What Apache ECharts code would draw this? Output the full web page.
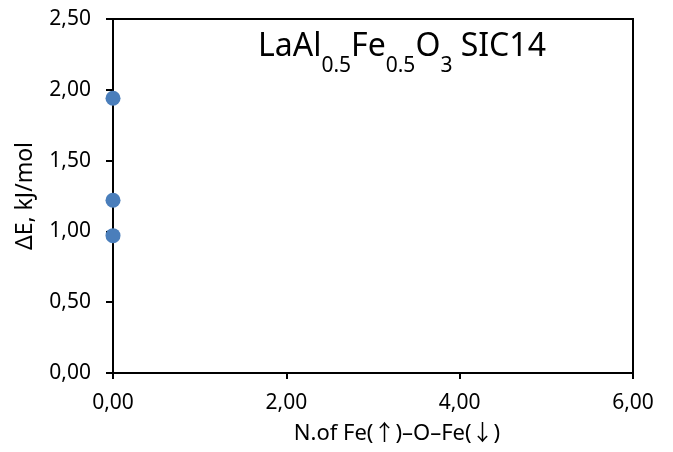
<!DOCTYPE html>
<html>
<head>
<meta charset="utf-8">
<script src="https://cdn.jsdelivr.net/npm/echarts@6/dist/echarts.min.js"></script>
<style>
  html, body { margin: 0; padding: 0; background: #fff; }
  #main { width: 673px; height: 452px; }
</style>
</head>
<body>
<div id="main"></div>
<script>
// data
const xValues = [0, 0, 0]
const yValues = [1.94, 1.22, 0.97]
const xTicks = { min: 0, max: 6, interval: 2 }
const yTicks = { min: 0, max: 2.5, interval: 0.5 }

const fmt = v => v.toFixed(2).replace('.', ',')
const font = '"Noto Sans", "DejaVu Sans", sans-serif'
const nameFont = '"Noto Sans", "Noto Sans CJK SC", sans-serif'

const chart = echarts.init(document.getElementById('main'))
chart.setOption({
  animation: false,
  title: {
    left: 258,
    top: 31,
    padding: 0,
    text: '{m|LaAl}{s|0.5}{m|Fe}{s|0.5}{m|O}{s|3}{m| SIC14}',
    textStyle: {
      rich: {
        m: { fontSize: 32, fontWeight: 'normal', lineHeight: 40, verticalAlign: 'top', color: '#000', fontFamily: font },
        s: { fontSize: 21, fontWeight: 'normal', lineHeight: 21, verticalAlign: 'top', padding: [25, 0, 0, 0], color: '#000', fontFamily: font }
      }
    }
  },
  grid: {
    left: 113,
    right: 40,
    top: 19,
    bottom: 79,
    show: true,
    borderColor: '#000',
    borderWidth: 2
  },
  xAxis: {
    type: 'value',
    min: xTicks.min,
    max: xTicks.max,
    interval: xTicks.interval,
    name: 'N.of Fe(↑)–O–Fe(↓)',
    nameLocation: 'middle',
    nameGap: 50,
    nameTextStyle: { fontSize: 22, color: '#000', fontFamily: nameFont, padding: [0, 0, 0, 48] },
    axisLine: { lineStyle: { color: '#000', width: 2 } },
    axisTick: { inside: false, length: 6, lineStyle: { color: '#000', width: 2 } },
    axisLabel: { formatter: fmt, fontSize: 21, color: '#000', fontFamily: font, margin: 20 },
    splitLine: { show: false }
  },
  yAxis: {
    type: 'value',
    min: yTicks.min,
    max: yTicks.max,
    interval: yTicks.interval,
    name: 'ΔE, kJ/mol',
    nameLocation: 'middle',
    nameGap: 76,
    nameTextStyle: { fontSize: 23, color: '#000', fontFamily: font },
    axisLine: { lineStyle: { color: '#000', width: 2 } },
    axisTick: { inside: false, length: 7, lineStyle: { color: '#000', width: 2 } },
    axisLabel: { formatter: fmt, fontSize: 21, color: '#000', fontFamily: font, margin: 22 },
    splitLine: { show: false }
  },
  series: [{
    type: 'scatter',
    symbolSize: 15,
    itemStyle: { color: '#4a7ebb', opacity: 1 },
    data: xValues.map((x, i) => [x, yValues[i]])
  }]
})
</script>
</body>
</html>
